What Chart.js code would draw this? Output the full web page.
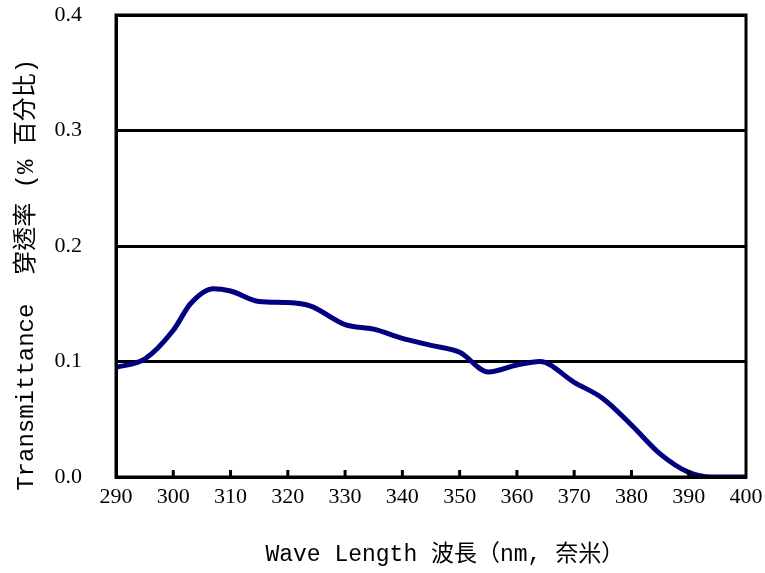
<!DOCTYPE html>
<html><head><meta charset="utf-8">
<script src="https://cdn.jsdelivr.net/npm/chart.js@4"></script>
<style>html,body{margin:0;padding:0;background:#fff}#wrap{width:765px;height:573px}</style>
</head><body><div id="wrap"><canvas id="c"></canvas></div>
<script>
const wavelengths = [290, 295, 300, 303, 307, 310, 315, 320, 324, 330, 335, 340, 345, 350, 355, 360, 364, 370, 375, 380, 385, 390, 394, 400];
const transmittance = [0.095, 0.102, 0.127, 0.150, 0.163, 0.161, 0.152, 0.151, 0.148, 0.132, 0.128, 0.120, 0.114, 0.108, 0.091, 0.097, 0.100, 0.082, 0.068, 0.045, 0.020, 0.004, 0.000, 0.000];
const xTicks = [290, 300, 310, 320, 330, 340, 350, 360, 370, 380, 390, 400];
const yTicks = [0.0, 0.1, 0.2, 0.3, 0.4];
const xTitle = '  Wave Length 波長（nm, 奈米）';
const yTitle = 'Transmittance  穿透率 (% 百分比)    ';
const FONT = "'Liberation Serif', 'Noto Sans CJK TC', serif";
const TFONT = "'Liberation Mono', 'Noto Sans CJK TC', monospace";

const frame = {
  id: 'frame',
  afterDatasetsDraw(chart) {
    const ctx = chart.ctx, a = chart.chartArea, xs = chart.scales.x;
    ctx.save();
    ctx.strokeStyle = '#000';
    ctx.lineWidth = 3;
    ctx.strokeRect(a.left, a.top, a.right - a.left, a.bottom - a.top);
    xTicks.slice(1, -1).forEach(v => {
      const px = xs.getPixelForValue(v);
      ctx.beginPath(); ctx.moveTo(px, a.bottom); ctx.lineTo(px, a.bottom - 7); ctx.stroke();
    });
    ctx.restore();
  }
};

new Chart(document.getElementById('c'), {
  type: 'line',
  data: {
    datasets: [{
      data: wavelengths.map((w, i) => ({x: w, y: transmittance[i]})),
      borderColor: '#000080',
      borderWidth: 5,
      pointRadius: 0,
      fill: false,
      cubicInterpolationMode: 'monotone'
    }]
  },
  options: {
    responsive: true,
    maintainAspectRatio: false,
    animation: false,
    layout: {padding: {top: 15, right: 19, left: 12, bottom: 4}},
    plugins: {legend: {display: false}, tooltip: {enabled: false}},
    scales: {
      x: {
        type: 'linear', min: 290, max: 400,
        afterBuildTicks: s => { s.ticks = xTicks.map(v => ({value: v})); },
        ticks: {color: '#000', font: {family: FONT, size: 22}, padding: 7, maxRotation: 0, autoSkip: false},
        grid: {display: false, drawTicks: false},
        border: {display: true, color: '#000', width: 3},
        title: {display: true, text: xTitle, color: '#000', font: {family: TFONT, size: 23}, padding: {top: 22, bottom: 0}},
        afterFit: s => { s.height = 573 - 477 - 4; s.paddingLeft = 0; s.paddingRight = 0; }
      },
      y: {
        min: 0, max: 0.4,
        afterBuildTicks: s => { s.ticks = yTicks.map(v => ({value: v})); },
        ticks: {color: '#000', font: {family: FONT, size: 22}, padding: 34, callback: v => v.toFixed(1)},
        grid: {color: '#000', lineWidth: 3, drawTicks: false},
        border: {display: true, color: '#000', width: 3},
        title: {display: true, text: yTitle, color: '#000', font: {family: TFONT, size: 24}, padding: {top: 0, bottom: 0}},
        afterFit: s => { s.width = 116 - 12; s.paddingTop = 0; s.paddingBottom = 0; }
      }
    }
  },
  plugins: [frame]
});
</script></body></html>
